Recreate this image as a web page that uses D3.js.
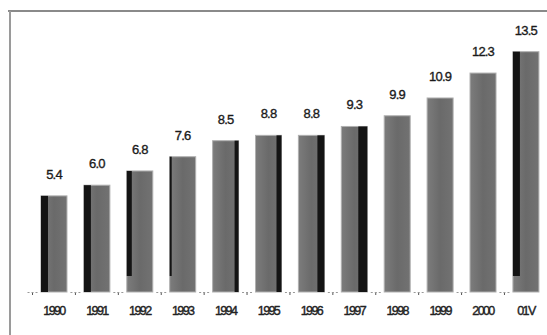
<!DOCTYPE html>
<html>
<head>
<meta charset="utf-8">
<script src="https://cdn.jsdelivr.net/npm/d3@7"></script>
<style>
  html, body { margin: 0; padding: 0; background: #fff; }
  svg { display: block; }
  text { font-family: "Liberation Sans", Arial, sans-serif; }
</style>
</head>
<body>
<svg id="chart" width="547" height="335"></svg>
<script>
// Annual values, 1990 to 01V
const categories = ["1990", "1991", "1992", "1993", "1994", "1995", "1996", "1997", "1998", "1999", "2000", "01V"];
const values = [5.4, 6.0, 6.8, 7.6, 8.5, 8.8, 8.8, 9.3, 9.9, 10.9, 12.3, 13.5];
// Side of the dark edge strip on each bar ("L", "R" or none) and its width
const edgeSide = ["L", "L", "L", "L", "R", "R", "R", "R", "", "", "", "L"];
const edgeWidth = [7, 7, 5, 2, 4, 5, 7, 9, 0, 0, 0, 7];

const W = 547, H = 335;
const baseY = 292;
const svg = d3.select("#chart");

const x = d3.scaleBand()
  .domain(categories)
  .range([32.4, 547.5])
  .paddingInner(0.394)
  .paddingOuter(0.2);

const y = d3.scaleLinear()
  .domain([0, 13.5])
  .range([baseY, baseY - 13.5 * 17.8]);

// frame lines
svg.append("line").attr("x1", 8).attr("x2", W).attr("y1", 11).attr("y2", 11)
  .attr("stroke", "#8a8a8a").attr("stroke-width", 2);
svg.append("line").attr("x1", 10).attr("x2", 10).attr("y1", 11).attr("y2", H)
  .attr("stroke", "#9a9a9a").attr("stroke-width", 2);

const defs = svg.append("defs");
const grad = defs.append("linearGradient").attr("id", "barFill")
  .attr("x1", "0").attr("x2", "1").attr("y1", "0").attr("y2", "0");
grad.append("stop").attr("offset", "0").attr("stop-color", "#7c7c7c");
grad.append("stop").attr("offset", "0.5").attr("stop-color", "#6a6a6a");
grad.append("stop").attr("offset", "1").attr("stop-color", "#727272");

const rows = categories.map((c, i) => ({ c, v: values[i], side: edgeSide[i], ew: edgeWidth[i] }));

const g = svg.append("g");

// bars
g.selectAll("rect.bar").data(rows).join("rect")
  .attr("class", "bar")
  .attr("x", d => x(d.c))
  .attr("width", x.bandwidth())
  .attr("y", d => y(d.v))
  .attr("height", d => y(0) - y(d.v))
  .attr("fill", "url(#barFill)")
  .attr("stroke", "#b0b0b0")
  .attr("stroke-width", 1);

// dark edge strips
g.selectAll("rect.edge").data(rows.filter(d => d.side)).join("rect")
  .attr("class", "edge")
  .attr("x", d => d.side === "L" ? x(d.c) : x(d.c) + x.bandwidth() - d.ew)
  .attr("width", d => d.ew)
  .attr("y", d => y(d.v))
  .attr("height", d => (d.side === "L" && d.v > 6.5) ? (y(0) - y(d.v) - 16) : (y(0) - y(d.v)))
  .attr("fill", "#141414");

// value labels
g.selectAll("text.val").data(rows).join("text")
  .attr("class", "val")
  .attr("x", d => x(d.c) + x.bandwidth() / 2)
  .attr("y", d => y(d.v) - 17)
  .attr("text-anchor", "middle")
  .attr("font-size", 13)
  .attr("letter-spacing", -0.8)
  .attr("fill", "#1a1a1a")
  .attr("stroke", "#1a1a1a")
  .attr("stroke-width", 0.35)
  .text(d => d.v.toFixed(1));

// category axis
const axis = d3.axisBottom(x).tickSize(0).tickPadding(14);
const ax = svg.append("g").attr("transform", `translate(0,${baseY})`).call(axis);
ax.select(".domain").remove();
ax.selectAll("text")
  .attr("font-size", 12.5)
  .attr("letter-spacing", -1.6)
  .attr("fill", "#222")
  .attr("stroke", "#222")
  .attr("stroke-width", 0.4)
  .style("font-family", "'Liberation Sans', Arial, sans-serif");

// tick marks between categories
const step = x.step();
const between = categories.map(c => x(c) - step * x.paddingInner() / 2);
svg.append("g").selectAll("g.tk").data(between).join("g")
  .attr("class", "tk")
  .each(function (px) {
    const s = d3.select(this);
    s.append("line").attr("x1", px).attr("x2", px).attr("y1", baseY).attr("y2", baseY + 3)
      .attr("stroke", "#555").attr("stroke-width", 1);
    s.append("line").attr("x1", px - 5).attr("x2", px + 5).attr("y1", baseY + 0.5).attr("y2", baseY + 0.5)
      .attr("stroke", "#999").attr("stroke-width", 1).attr("stroke-dasharray", "2,2");
  });
</script>
</body>
</html>
